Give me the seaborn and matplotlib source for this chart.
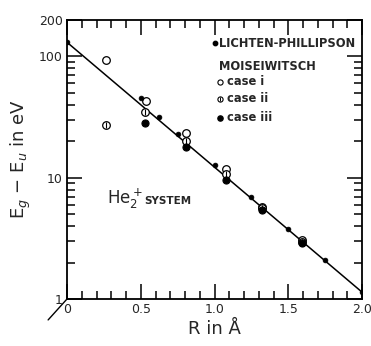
import matplotlib
matplotlib.use("Agg")
import matplotlib.pyplot as plt
import seaborn as sns
import numpy as np
import pandas as pd
from matplotlib.ticker import FixedLocator, LogLocator, NullFormatter, MultipleLocator

# ---- data ----
lichten_R = [0.0, 0.5, 0.625, 0.75, 1.0, 1.25, 1.5, 1.75, 2.0]
lichten_E = [131, 45.5, 31.7, 23.1, 12.7, 6.9, 3.77, 2.11, 1.14]

fit_R = [0.0, 2.0]
fit_E = [131, 1.14]

case1_R = [0.265, 0.533, 0.81, 1.076, 1.32, 1.59]
case1_E = [92.7, 43.2, 23.5, 11.7, 5.7, 3.05]

case2_R = [0.265, 0.53, 0.81, 1.076, 1.32, 1.59]
case2_E = [27.4, 34.8, 20.0, 10.7, 5.6, 2.95]

case3_R = [0.53, 0.81, 1.076, 1.32, 1.59]
case3_E = [28.5, 17.8, 9.6, 5.45, 2.9]

x_ticks = [0, 0.5, 1.0, 1.5, 2.0]
x_labels = ["0", "0.5", "1.0", "1.5", "2.0"]
y_ticks = [1, 10, 100, 200]
y_labels = ["1", "10", "100", "200"]

sns.set_style("ticks")
plt.rcParams['font.family'] = ['DejaVu Sans']

fig = plt.figure(figsize=(3.71, 3.46), dpi=100)
ax = fig.add_axes([67/371, 1 - 299/346, 295/371, 279/346])

sns.lineplot(x=fit_R, y=fit_E, ax=ax, color="black", linewidth=1.1, legend=False)
sns.scatterplot(x=lichten_R, y=lichten_E, ax=ax, color="black", s=12, edgecolor="black", linewidth=0.5, zorder=4)
sns.scatterplot(x=case1_R, y=case1_E, ax=ax, marker="o", s=30, facecolor="white", edgecolor="black", linewidth=0.9, zorder=3)
sns.scatterplot(x=case2_R, y=case2_E, ax=ax, marker="o", s=30, facecolor="white", edgecolor="black", linewidth=0.9, zorder=3)
sns.scatterplot(x=case2_R, y=case2_E, ax=ax, marker="|", s=22, color="black", linewidth=0.8, zorder=3)
sns.scatterplot(x=case3_R, y=case3_E, ax=ax, marker="o", s=26, color="black", edgecolor="black", linewidth=0.8, zorder=3)

ax.set_yscale("log")
ax.set_xlim(0, 2.0)
ax.set_ylim(1, 200)

ax.xaxis.set_major_locator(FixedLocator(x_ticks))
ax.set_xticklabels(x_labels)
ax.xaxis.set_minor_locator(MultipleLocator(0.1))
ax.yaxis.set_major_locator(FixedLocator(y_ticks))
ax.set_yticklabels(y_labels)
ax.yaxis.set_minor_locator(LogLocator(base=10, subs=np.arange(2, 10)))
ax.yaxis.set_minor_formatter(NullFormatter())

ax.tick_params(which="both", direction="in", top=True, right=True, width=1.1, color="black", labelsize=9, pad=3)
ax.tick_params(which="major", length=11)
ax.tick_params(which="minor", length=6)
for sp in ax.spines.values():
    sp.set_visible(True)
    sp.set_linewidth(1.3)
    sp.set_color("black")

ax.set_xlabel("R in Å", fontsize=13, labelpad=3)
ax.set_ylabel(r"E$_g$ − E$_u$ in eV", fontsize=13, labelpad=4)

# legend-like annotations
fs = 8.3
lx = 0.502
ax.scatter([lx], [0.9165], transform=ax.transAxes, s=10, color="black", clip_on=False)
ax.text(lx + 0.013, 0.9165, "LICHTEN-PHILLIPSON", transform=ax.transAxes, fontsize=fs, fontweight="bold", va="center", ha="left")
ax.text(0.515, 0.833, "MOISEIWITSCH", transform=ax.transAxes, fontsize=fs, fontweight="bold", va="center", ha="left")
ax.scatter([0.52], [0.779], transform=ax.transAxes, s=14, facecolor="white", edgecolor="black", linewidth=0.8)
ax.text(0.541, 0.779, "case i", transform=ax.transAxes, fontsize=fs, fontweight="bold", va="center", ha="left")
ax.scatter([0.52], [0.717], transform=ax.transAxes, s=14, facecolor="white", edgecolor="black", linewidth=0.8)
ax.scatter([0.52], [0.717], transform=ax.transAxes, s=12, marker="|", color="black", linewidth=0.7)
ax.text(0.541, 0.717, "case ii", transform=ax.transAxes, fontsize=fs, fontweight="bold", va="center", ha="left")
ax.scatter([0.52], [0.650], transform=ax.transAxes, s=14, color="black")
ax.text(0.541, 0.650, "case iii", transform=ax.transAxes, fontsize=fs, fontweight="bold", va="center", ha="left")

ax.text(0.135, 0.34, r"He$_2^+$", transform=ax.transAxes, fontsize=12, va="baseline", ha="left")
ax.text(0.262, 0.34, "SYSTEM", transform=ax.transAxes, fontsize=7.5, fontweight="bold", va="baseline", ha="left")

ax.plot([-0.064, 0.0], [-0.075, 0.0], transform=ax.transAxes, color="black", linewidth=1.0, clip_on=False)

fig.savefig("out.png", dpi=100)
